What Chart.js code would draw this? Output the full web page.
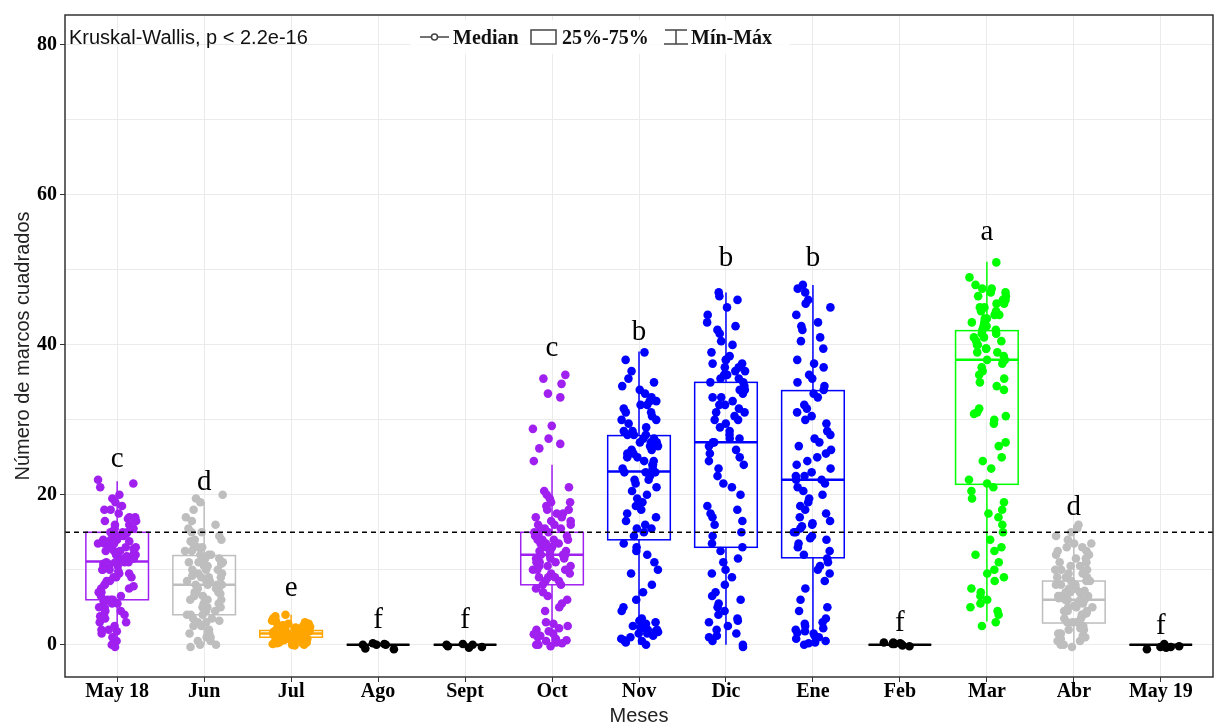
<!DOCTYPE html>
<html>
<head>
<meta charset="utf-8">
<script src="https://cdn.jsdelivr.net/npm/chart.js"></script>
<style>
  body { margin: 0; background: #fff; }
  #wrap { width: 1222px; height: 725px; }
</style>
</head>
<body>
<div id="wrap"><canvas id="chart" width="1222" height="725"></canvas></div>
<script>
// categories and colours
const months = ["May 18", "Jun", "Jul", "Ago", "Sept", "Oct", "Nov", "Dic", "Ene", "Feb", "Mar", "Abr", "May 19"];
const colors = ["#A020F0", "#BEBEBE", "#FFA500", "#000000", "#000000", "#A020F0", "#0000FF", "#0000FF", "#0000FF", "#000000", "#00FF00", "#BEBEBE", "#000000"];

// box statistics
const q1 = [6, 4, 1, 0, 0, 8, 14, 13, 11.6, 0, 21.4, 2.9, 0];
const medians = [11.1, 8, 1.5, 0, 0, 12, 23.1, 27, 22, 0, 38, 6, 0];
const q3 = [15, 11.9, 1.9, 0, 0, 15, 27.9, 35, 33.9, 0, 41.9, 8.5, 0];
const whiskerLow = [0, 0, 0, 0, 0, 0, 0, 0, 0, 0, 3.1, 0, 0];
const whiskerHigh = [21.8, 19, 4, 0, 0, 24, 39.1, 47, 48, 0, 51.1, 16, 0];

// group letters and their heights
const letters = ["c", "d", "e", "f", "f", "c", "b", "b", "b", "f", "a", "d", "f"];
const letterY = [23.7, 20.6, 6.5, 2.2, 2.2, 38.5, 40.6, 50.5, 50.5, 1.8, 54, 17.3, 1.5];
const threshold = 15;

// observations per month
const valsMay18 = [22, 21.5, 21, 20, 19.5, 19, 18.5, 18, 18, 17.5, 17, 17, 16.5, 16.5, 16, 16, 15.5, 15.5, 15, 15, 15, 14.5, 14.5, 14.5, 14, 14, 14, 13.5, 13.5, 13.5, 13, 13, 13, 12.5, 12.5, 12.5, 12, 12, 12, 11.5, 11.5, 11.5, 11, 11, 11, 11, 10.5, 10.5, 10.5, 10, 10, 10, 9.5, 9.5, 9, 9, 9, 8.5, 8.5, 8, 8, 7.5, 7.5, 7, 7, 6.5, 6.5, 6, 6, 6, 5.5, 5.5, 5, 5, 4.5, 4.5, 4, 4, 3.5, 3, 3, 2.5, 2, 2, 1.5, 1, 0.5, 0, -0.3, 12.8, 13.8, 10.8, 9.8, 14.8, 16.8, 11.8, 7.8, 5.8, 3.8, 1.8];
const valsJun = [20, 19.5, 19, 18, 17, 16.5, 16, 15.5, 15, 15, 14.5, 14, 14, 13.5, 13, 13, 12.5, 12.5, 12, 12, 12, 11.5, 11.5, 11, 11, 11, 10.5, 10.5, 10, 10, 10, 9.5, 9.5, 9, 9, 9, 8.5, 8.5, 8.5, 8, 8, 8, 8, 7.5, 7.5, 7.5, 7, 7, 7, 6.5, 6.5, 6, 6, 6, 5.5, 5.5, 5, 5, 5, 4.5, 4.5, 4, 4, 4, 3.5, 3.5, 3, 3, 2.5, 2.5, 2, 2, 1.5, 1.5, 1, 1, 0.5, 0.5, 0, 0, -0.3, 9.2, 6.8, 10.8, 3.2, 13.8];
const valsJul = [4, 3.8, 3.5, 3.5, 3.2, 3, 3, 2.8, 2.8, 2.5, 2.5, 2.5, 2.2, 2.2, 2, 2, 2, 2, 1.8, 1.8, 1.8, 1.6, 1.6, 1.5, 1.5, 1.5, 1.5, 1.4, 1.3, 1.2, 1.2, 1.1, 1, 1, 1, 1, 0.9, 0.8, 0.7, 0.6, 0.5, 0.5, 0.4, 0.3, 0.2, 0.1, 0, 0, 0, -0.1, 1.7, 2.3, 1.3, 0.8, 2.6, 3.3, 1.9, 1.4, 0.6, 0.2, 1.1, 2.1, 0.9, 0.3, 1.6, 2.4];
const valsAgo = [0.1, -0.5, 0.2, -0.6, 0, 0, 0];
const valsSept = [0, -0.3, 0.1, -0.4, 0, -0.2];
const valsOct = [36, 35.5, 34.8, 33.5, 33, 29.2, 28.8, 27.5, 26.8, 26.2, 24.5, 21, 20.5, 20, 19.5, 19, 19, 18.5, 18, 18, 17.5, 17.5, 17, 17, 16.5, 16.5, 16, 16, 16, 15.5, 15.5, 15.5, 15, 15, 15, 14.5, 14.5, 14.5, 14, 14, 14, 14, 13.5, 13.5, 13.5, 13, 13, 13, 13, 12.5, 12.5, 12.5, 12, 12, 12, 12, 11.5, 11.5, 11.5, 11, 11, 11, 10.5, 10.5, 10.5, 10, 10, 10, 9.5, 9.5, 9, 9, 9, 8.5, 8.5, 8, 8, 7.5, 7, 6.5, 6, 5.5, 5, 4.5, 3, 2.8, 2.5, 2, 1.8, 1.5, 1.2, 1, 0.8, 0.5, 0.3, 0, 0, -0.2, 0.2, 2.2, 1.4, 0.6];
const valsNov = [39, 38, 36.5, 35.5, 35, 34.5, 34, 33.5, 33, 32.5, 32.5, 32, 32, 31.5, 31, 31, 30.5, 30, 30, 29.5, 29, 28.5, 28.5, 28, 28, 28, 27.5, 27.5, 27, 27, 27, 26.5, 26.5, 26, 26, 25.5, 25.5, 25, 25, 24.5, 24.5, 24, 24, 23.5, 23.5, 23, 23, 23, 22.5, 22, 22, 21.5, 21, 20.5, 20, 19.5, 19, 18.5, 18, 17.5, 17, 16.5, 16, 15.5, 15.5, 15, 14.5, 13.5, 13, 12.5, 12, 11, 10, 9.5, 8, 7, 6, 5, 4.5, 3.5, 3, 2.5, 2.2, 2, 2, 1.8, 1.5, 1.5, 1.2, 1, 0.8, 0.5, 0.3, 0, 2.8, 1.7, 2.3, 3.2, 0.6];
const valsDic = [47, 46.5, 46, 45, 44, 43, 42.5, 42, 41.5, 40.5, 40, 39, 38.5, 38, 38, 37.5, 37.5, 37, 37, 36.5, 36.5, 36, 36, 35.5, 35.5, 35, 35, 34.5, 34, 34, 33.5, 33, 33, 32.5, 32, 32, 31.5, 31, 31, 30.5, 30, 30, 29.5, 29, 28.5, 28, 27.5, 27.5, 27, 27, 26.5, 26, 25.5, 25, 24.5, 24, 23.5, 22.5, 21.5, 21, 20, 18, 17.5, 17, 16.5, 16, 15, 14.5, 13.5, 13, 12.5, 11.5, 11, 10, 9, 8, 7, 6.5, 6, 5, 4.5, 4, 3.5, 3, 2.5, 2, 1.5, 1, 0.5, 0, -0.3, 5.5, 3.2, 1.2, 18.5, 9.5];
const valsEne = [48, 47.5, 47, 46, 45.5, 45, 44, 43, 42.5, 42, 41, 40.5, 39.5, 38, 37.5, 37, 36, 35.5, 35, 34.5, 34, 33.5, 33, 32, 31.5, 31, 30.5, 30, 29.5, 28.5, 28, 27.5, 27, 26.5, 26, 25.5, 25, 24.5, 24, 23.5, 23, 22.5, 22.5, 22, 22, 21.5, 21, 20.5, 20, 19.5, 19, 18.5, 18, 17.5, 17, 16.5, 16, 15.5, 15, 15, 14.5, 14, 13.5, 13, 12.5, 12, 11.5, 11, 10.5, 10, 9.5, 8.5, 7.5, 6, 5, 4.5, 3.5, 3, 2.5, 2.2, 2, 1.8, 1.5, 1.2, 1, 0.8, 0.5, 0.3, 0, 2.8, 1.6, 0.2, 15.8, 14.2, 16.2];
const valsFeb = [0.3, 0.1, 0.2, -0.1, 0, 0.2, 0.1, -0.2, 0.3];
const valsMar = [51, 49, 48, 47.5, 47.5, 47, 47, 46.5, 46.5, 46, 46, 45.5, 45.5, 45, 45, 44.5, 44.5, 44, 44, 43.5, 43.5, 43, 43, 42.5, 42.5, 42, 42, 41.5, 41.5, 41, 41, 40.5, 40.5, 40, 40, 39.5, 39.5, 39, 39, 38.5, 38, 38, 37.5, 37, 36.5, 36, 35.5, 35, 34.5, 34, 31, 30.5, 30, 29.5, 27, 26.5, 24.5, 23.5, 22, 21.5, 21, 20.5, 19.5, 19, 18, 17, 16, 15, 14, 13, 12.5, 12, 11, 10, 9.5, 8.5, 7.5, 7, 6.5, 5.5, 5, 4.5, 4, 3, 2.5, 31.5, 30.8, 25, 17.5, 9, 6];
const valsAbr = [16, 15.5, 15, 14.5, 14, 13.5, 13.5, 13, 13, 12.5, 12.5, 12, 12, 11.5, 11.5, 11, 11, 10.5, 10.5, 10, 10, 10, 9.5, 9.5, 9, 9, 9, 8.5, 8.5, 8.5, 8, 8, 8, 7.5, 7.5, 7.5, 7, 7, 7, 7, 6.5, 6.5, 6.5, 6, 6, 6, 6, 5.5, 5.5, 5.5, 5, 5, 5, 4.5, 4.5, 4.5, 4, 4, 4, 3.5, 3.5, 3, 3, 3, 2.5, 2.5, 2, 2, 1.5, 1.5, 1, 1, 0.5, 0.5, 0, 0, -0.3, 0.8, 1.2, 2.2, 6.2, 5.2, 7.2, 4.2];
const valsMay19 = [-0.3, -0.4, -0.2, 0.1, -0.6, -0.3];

const allVals = [valsMay18, valsJun, valsJul, valsAgo, valsSept, valsOct, valsNov, valsDic, valsEne, valsFeb, valsMar, valsAbr, valsMay19];

const boxHalf = 0.36;

// deterministic horizontal jitter, just for spreading the dots
function jitter(i, j) {
  const s = Math.sin(i * 91.7 + j * 12.9898) * 43758.5453;
  return (s - Math.floor(s) - 0.5) * 0.44;
}

const datasets = allVals.map((vals, i) => ({
  type: "scatter",
  label: months[i],
  data: vals.map((v, j) => ({ x: i + jitter(i, j), y: v })),
  backgroundColor: colors[i],
  borderWidth: 0,
  pointRadius: 4.3,
}));

const boxPlugin = {
  id: "boxes",
  beforeDatasetsDraw(chart) {
    const { ctx, scales: { x, y }, chartArea } = chart;
    ctx.save();

    // legend background
    ctx.fillStyle = "rgba(255,255,255,0.85)";
    ctx.fillRect(410, 20, 380, 34);

    months.forEach((m, i) => {
      const left = x.getPixelForValue(i - boxHalf);
      const right = x.getPixelForValue(i + boxHalf);
      const cx = x.getPixelForValue(i);
      const top = y.getPixelForValue(q3[i]);
      const bot = y.getPixelForValue(q1[i]);
      ctx.strokeStyle = colors[i];
      ctx.lineWidth = 1.5;
      ctx.beginPath();
      ctx.moveTo(cx, y.getPixelForValue(whiskerHigh[i]));
      ctx.lineTo(cx, top);
      ctx.moveTo(cx, bot);
      ctx.lineTo(cx, y.getPixelForValue(whiskerLow[i]));
      ctx.stroke();
      ctx.strokeRect(left, top, right - left, bot - top);
      ctx.lineWidth = 2.5;
      const my = y.getPixelForValue(medians[i]);
      ctx.beginPath();
      ctx.moveTo(left, my);
      ctx.lineTo(right, my);
      ctx.stroke();
    });
    ctx.restore();
  },
  afterDatasetsDraw(chart) {
    const { ctx, scales: { x, y }, chartArea } = chart;
    ctx.save();

    // reference line
    ctx.strokeStyle = "#000";
    ctx.lineWidth = 1.5;
    ctx.setLineDash([5, 4]);
    ctx.beginPath();
    ctx.moveTo(chartArea.left, y.getPixelForValue(threshold));
    ctx.lineTo(chartArea.right, y.getPixelForValue(threshold));
    ctx.stroke();
    ctx.setLineDash([]);

    // group letters
    ctx.fillStyle = "#000";
    ctx.font = "29px 'Liberation Serif'";
    ctx.textAlign = "center";
    ctx.textBaseline = "alphabetic";
    letters.forEach((l, i) => {
      ctx.fillText(l, x.getPixelForValue(i), y.getPixelForValue(letterY[i]));
    });

    // panel frame
    ctx.strokeStyle = "#333";
    ctx.lineWidth = 1.5;
    ctx.strokeRect(chartArea.left, chartArea.top, chartArea.right - chartArea.left, chartArea.bottom - chartArea.top);

    // test annotation
    ctx.textAlign = "left";
    ctx.font = "20px 'Liberation Sans'";
    ctx.fillStyle = "#111";
    ctx.fillText("Kruskal-Wallis, p < 2.2e-16", 69, 44);

    // legend
    ctx.strokeStyle = "#444";
    ctx.lineWidth = 1.5;
    ctx.beginPath();
    ctx.moveTo(420, 37);
    ctx.lineTo(449, 37);
    ctx.stroke();
    ctx.fillStyle = "#fff";
    ctx.beginPath();
    ctx.arc(434.5, 37, 3, 0, Math.PI * 2);
    ctx.fill();
    ctx.stroke();
    ctx.strokeRect(531, 30, 25, 14);
    ctx.beginPath();
    ctx.moveTo(665, 30);
    ctx.lineTo(687, 30);
    ctx.moveTo(676, 30);
    ctx.lineTo(676, 44);
    ctx.moveTo(664, 44);
    ctx.lineTo(688, 44);
    ctx.stroke();

    ctx.fillStyle = "#111";
    ctx.font = "bold 20px 'Liberation Serif'";
    ctx.fillText("Median", 453, 44);
    ctx.fillText("25%-75%", 562, 44);
    ctx.fillText("Mín-Máx", 691, 44);

    ctx.restore();
  },
};

const ctx = document.getElementById("chart").getContext("2d");
new Chart(ctx, {
  type: "scatter",
  data: { datasets: datasets },
  plugins: [boxPlugin],
  options: {
    responsive: false,
    animation: false,
    events: [],
    layout: { padding: { top: 13, right: 9, left: 0, bottom: 0 } },
    plugins: {
      legend: { display: false },
      tooltip: { enabled: false },
    },
    scales: {
      x: {
        type: "linear",
        min: -0.6,
        max: 12.6,
        afterBuildTicks: (s) => {
          s.ticks = months.map((m, i) => ({ value: i }));
        },
        afterFit: (s) => {
          s.height = 48;
        },
        ticks: {
          callback: (v) => months[v],
          autoSkip: false,
          maxRotation: 0,
          padding: -2,
          color: "#000",
          font: { family: "'Liberation Serif'", weight: "bold", size: 20 },
        },
        grid: { color: "#ebebeb", lineWidth: 1, tickLength: 5, tickColor: "#333" },
        border: { display: false },
        title: {
          display: true,
          text: "Meses",
          color: "#222",
          font: { family: "'Liberation Sans'", size: 20 },
          padding: { top: 0, bottom: -3 },
        },
      },
      y: {
        min: -4.3,
        max: 84,
        afterBuildTicks: (s) => {
          s.ticks = [0, 10, 20, 30, 40, 50, 60, 70, 80].map((v) => ({ value: v }));
        },
        afterFit: (s) => {
          s.width = 65;
        },
        ticks: {
          callback: (v) => (v % 20 === 0 ? v : ""),
          padding: 3,
          color: "#000",
          font: { family: "'Liberation Serif'", weight: "bold", size: 20 },
        },
        grid: {
          color: "#ebebeb",
          lineWidth: 1,
          tickLength: 5,
          tickColor: (c) => (c.tick && c.tick.value % 20 === 0 ? "#333" : "rgba(0,0,0,0)"),
        },
        border: { display: false },
        title: {
          display: true,
          text: "Número de marcos cuadrados",
          color: "#222",
          font: { family: "'Liberation Sans'", size: 20 },
          padding: { top: 11, bottom: 0 },
        },
      },
    },
  },
});
</script>
</body>
</html>
